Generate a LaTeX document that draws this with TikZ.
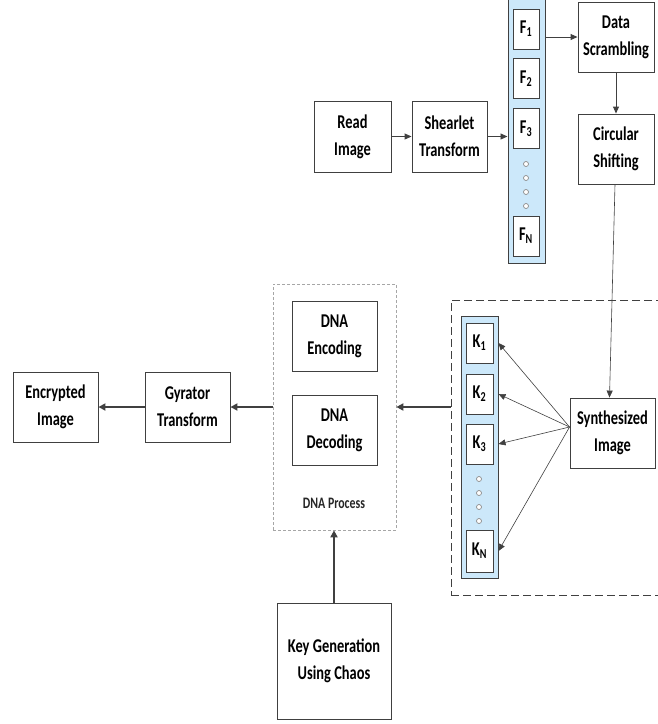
\documentclass[tikz,border=0pt]{standalone}
\usepackage{fontspec}
\setmainfont{Carlito}[FakeStretch=0.74]
\usetikzlibrary{arrows.meta}
\definecolor{frame}{RGB}{64,64,64}
\definecolor{colfill}{RGB}{204,232,250}
\tikzset{
  x=1pt, y=-1pt,
  box/.style={draw=frame, line width=0.9pt, fill=white, align=center, inner sep=0pt,
    font=\fontsize{19.5}{27}\selectfont\bfseries},
  column/.style={draw=frame, line width=1pt, fill=colfill, inner sep=0pt},
  cell/.style={box, minimum width=26, minimum height=40},
  dot/.style={draw=black!45, fill=white, line width=0.7pt, circle, inner sep=0pt, minimum size=5},
  thinarrow/.style={draw=frame, line width=0.9pt, -{Triangle[length=7pt,width=6pt]}},
  fanarrow/.style={draw=frame, line width=0.6pt, -{Triangle[length=7pt,width=6pt]}},
  thickarrow/.style={draw=frame, line width=1.8pt, -{Triangle[length=7pt,width=7pt]}},
}
\begin{document}
\begin{tikzpicture}
\useasboundingbox (0,0) rectangle (658,724);

% input stage
\node[box, minimum width=77, minimum height=71] (read) at (352.5,136.5) {Read\\Image};
\node[box, minimum width=75, minimum height=71] (shear) at (449.5,136.5) {Shearlet\\Transform};

% shearlet sub-bands
\node[column, minimum width=37, minimum height=265] (fcol) at (526.5,130.5) {};
\node[cell] (f1) at (526,29) {F\textsubscript{1}};
\node[cell] (f2) at (526,78.5) {F\textsubscript{2}};
\node[cell] (f3) at (526,128.5) {F\textsubscript{3}};
\node[cell] (fn) at (526,236) {F\textsubscript{N}};
\foreach \y in {164,178,192,206} \node[dot] at (526,\y) {};

% scrambling and shifting
\node[box, minimum width=76, minimum height=70] (scr) at (616,37) {Data\\Scrambling};
\node[box, minimum width=76, minimum height=70] (circ) at (616,149) {Circular\\Shifting};

% synthesis stage
\node[draw=frame, line width=0.9pt, dash pattern=on 8pt off 4pt, minimum width=229, minimum height=295, inner sep=0pt] (kframe) at (565.5,447.5) {};
\node[column, minimum width=37, minimum height=262] (kcol) at (479.5,447) {};
\node[cell, minimum width=27] (k1) at (479.5,343) {K\textsubscript{1}};
\node[cell, minimum width=27] (k2) at (479.5,394) {K\textsubscript{2}};
\node[cell, minimum width=27] (k3) at (479.5,444) {K\textsubscript{3}};
\node[cell, minimum width=27, minimum height=42] (kn) at (479.5,551) {K\textsubscript{N}};
\foreach \y in {479,493,507,521} \node[dot] at (479,\y) {};
\node[box, minimum width=85, minimum height=70] (syn) at (612.5,433) {Synthesized\\Image};

% DNA process
\node[draw=black!35, line width=0.7pt, dash pattern=on 3pt off 2pt, minimum width=123, minimum height=246, inner sep=0pt] (dna) at (334.5,407) {};
\node[box, minimum width=85, minimum height=70] (enc) at (334.5,336) {DNA\\Encoding};
\node[box, minimum width=85, minimum height=70] (dec) at (334.5,430) {DNA\\Decoding};
\node[font=\fontsize{16}{20}\selectfont\bfseries, text=black!85] (dnalabel) at (334,503) {DNA Process};

% output stage
\node[box, minimum width=85, minimum height=70] (gyr) at (187.5,407) {Gyrator\\Transform};
\node[box, minimum width=85, minimum height=70] (encr) at (55.5,407) {Encrypted\\Image};
\node[box, minimum width=114, minimum height=116] (key) at (334,661) {Key Generation\\Using Chaos};

% connectors
\draw[thinarrow] (read) -- (shear);
\draw[thinarrow] (shear.east) -- (fcol.west |- shear.east);
\draw[thinarrow] (fcol.east |- scr.west) -- (scr.west);
\draw[thinarrow] (scr) -- (circ);
\draw[fanarrow] ([xshift=-1pt]circ.south) -- ([xshift=-3pt]syn.north);
\coordinate (fan) at ([yshift=6pt]syn.west);
\foreach \k in {k1,k2,k3,kn} \draw[fanarrow] (fan) -- (kcol.east |- \k.east);
\draw[thickarrow] (kframe.west |- gyr) -- (dna.east |- gyr);
\draw[thickarrow] (dna.west |- gyr) -- (gyr.east);
\draw[thickarrow] (gyr) -- (encr);
\draw[thickarrow] (key) -- (dna.south -| key);
\end{tikzpicture}
\end{document}
